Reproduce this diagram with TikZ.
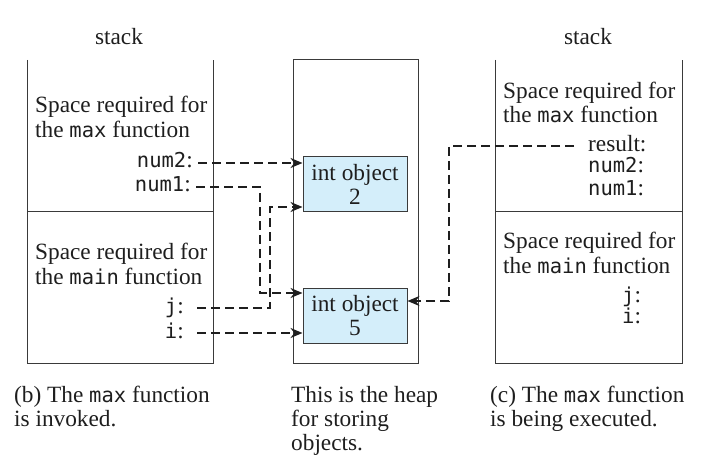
\documentclass[tikz,border=0pt]{standalone}
\usepackage{fontspec}
\setmainfont{Liberation Serif}
\newfontfamily\codefont{DejaVu Sans Mono}
\usetikzlibrary{arrows.meta}
\newcommand{\cd}[1]{{\codefont\fontsize{20.5}{20.5}\selectfont #1}}
\definecolor{objfill}{HTML}{D4EEFA}
\definecolor{ink}{HTML}{1E1E1E}
\definecolor{frame}{HTML}{3A3A3A}
\begin{document}
\begin{tikzpicture}[x=1pt,y=-1pt,
  txt/.style={font=\fontsize{23.3}{24}\selectfont, inner sep=0pt, anchor=base west, text=ink},
  txtr/.style={txt, anchor=base east},
  txtc/.style={txt, anchor=base},
  frm/.style={draw=frame, line width=1pt},
  obj/.style={draw=frame, line width=1pt, fill=objfill, minimum width=104pt, minimum height=55pt, inner sep=0pt, align=center, font=\fontsize{23.3}{24}\selectfont, text=ink},
  ptr/.style={draw=ink, line width=2.6pt, dash pattern=on 9pt off 5pt, -{Stealth[length=12pt,width=10pt]}}]
\useasboundingbox (0,0) rectangle (701,462);
% frames
\draw[frm] (27,60) -- (27,363) -- (213,363) -- (213,60);
\draw[frm] (27,212) -- (213,212);
\draw[frm] (293,60) rectangle (418,363);
\draw[frm] (495,60) -- (495,363) -- (682,363) -- (682,60);
\draw[frm] (495,212) -- (682,212);
% titles
\node[txtc] (st1) at (119,45) {stack};
\node[txtc] (st2) at (588,45) {stack};
% left stack
\node[txt] (la1) at (35,113) {Space required for};
\node[txt] (la2) at (35,138) {the \cd{max} function};
\node[txtr] (ln2) at (193,168) {\cd{num2}:};
\node[txtr] (ln1) at (191,192) {\cd{num1}:};
\node[txt] (lb1) at (35,260) {Space required for};
\node[txt] (lb2) at (35,284) {the \cd{main} function};
\node[txtr] (lj) at (184,313) {\cd{j}:};
\node[txtr] (li) at (184,338) {\cd{i}:};
% heap objects
\node[obj] (o2) at (355,184.5) {int object\\2};
\node[obj] (o5) at (355,315.5) {int object\\5};
% right stack
\node[txt] (ra1) at (503,99) {Space required for};
\node[txt] (ra2) at (503,123) {the \cd{max} function};
\node[txt] (rres) at (588,152) {result:};
\node[txt] (rn2) at (588,173) {\cd{num2}:};
\node[txt] (rn1) at (588,196) {\cd{num1}:};
\node[txt] (rb1) at (503,249) {Space required for};
\node[txt] (rb2) at (503,273) {the \cd{main} function};
\node[txt] (rj) at (622,302) {\cd{j}:};
\node[txt] (ri) at (622,323) {\cd{i}:};
% captions
\node[txt] (c1a) at (14,402) {(b) The \cd{max} function};
\node[txt] (c1b) at (14,426) {is invoked.};
\node[txt] (c2a) at (291,402) {This is the heap};
\node[txt] (c2b) at (291,426) {for storing};
\node[txt] (c2c) at (291,450) {objects.};
\node[txt] (c3a) at (490,402) {(c) The \cd{max} function};
\node[txt] (c3b) at (490,426) {is being executed.};
% pointer coordinates
\coordinate (s2) at (198,163);
\coordinate (s1) at (196,187);
\coordinate (sj) at (197,308);
\coordinate (si) at (197,333);
\coordinate (sr) at (574,146);
% pointers
\draw[ptr] (s2) -- (o2.west |- s2);
\draw[ptr] (s1) -| (260,293) -- (o5.west |- 0,293);
\draw[ptr] (sj) -| (270,207) -- (o2.west |- 0,207);
\draw[ptr] (si) -- (o5.west |- si);
\draw[ptr] (sr) -| (449,301) -- (o5.east |- 0,301);
\end{tikzpicture}
\end{document}
